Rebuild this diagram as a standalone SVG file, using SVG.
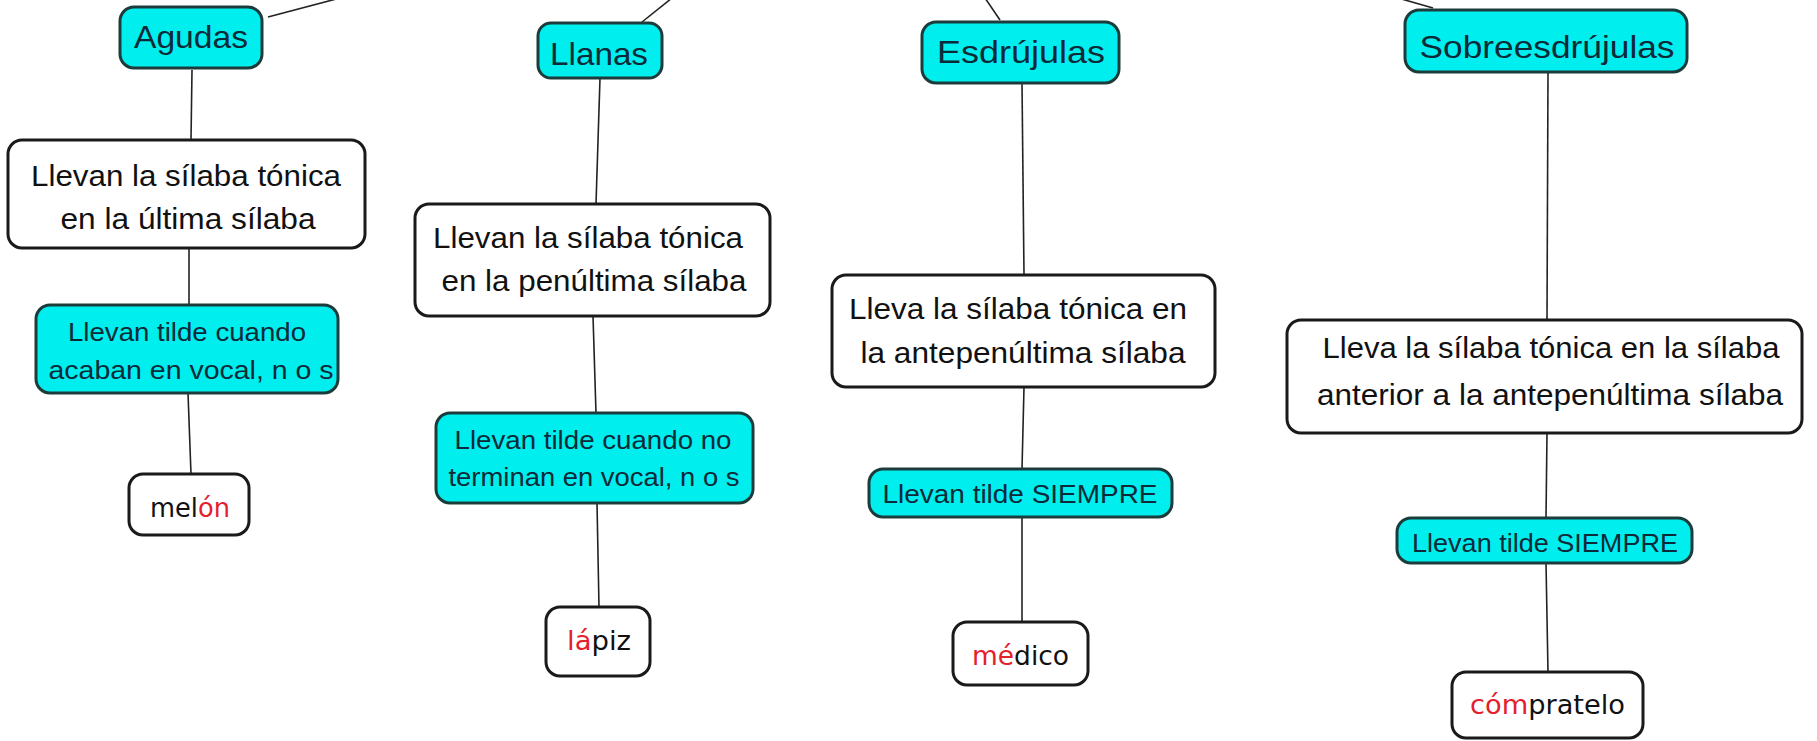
<svg xmlns="http://www.w3.org/2000/svg" width="1817" height="741" viewBox="0 0 1817 741">
<style>
.c{fill:#00eeee;stroke:#1c3c3c;stroke-width:3}
.w{fill:#ffffff;stroke:#1a1a1a;stroke-width:3}
.t{font-family:"Liberation Sans",Arial,sans-serif;fill:#111;text-anchor:middle}
.ct{font-family:"Liberation Sans",Arial,sans-serif;fill:#0c2a38;text-anchor:middle}
.e{font-family:"DejaVu Sans",Verdana,sans-serif;fill:#111;font-size:26px}
.r{fill:#e4202c}
.ln{stroke:#222;stroke-width:1.6;fill:none}
</style>
<rect width="1817" height="741" fill="#ffffff"/>
<g id="connectors">
<line class="ln" x1="268" y1="17" x2="340" y2="-2"/>
<line class="ln" x1="642" y1="22" x2="672" y2="-2"/>
<line class="ln" x1="1000" y1="20" x2="985" y2="-2"/>
<line class="ln" x1="1433" y1="8" x2="1398" y2="-2"/>
<line class="ln" x1="192" y1="70" x2="191" y2="140"/>
<line class="ln" x1="189" y1="248" x2="189" y2="305"/>
<line class="ln" x1="188" y1="393" x2="191" y2="474"/>
<line class="ln" x1="600" y1="78" x2="596" y2="204"/>
<line class="ln" x1="593" y1="316" x2="596" y2="413"/>
<line class="ln" x1="597" y1="503" x2="599" y2="607"/>
<line class="ln" x1="1022" y1="83" x2="1024" y2="275"/>
<line class="ln" x1="1024" y1="387" x2="1022" y2="469"/>
<line class="ln" x1="1022" y1="517" x2="1022" y2="622"/>
<line class="ln" x1="1548" y1="72" x2="1547" y2="320"/>
<line class="ln" x1="1547" y1="433" x2="1546" y2="518"/>
<line class="ln" x1="1546" y1="563" x2="1548" y2="672"/>
</g>
<g id="agudas">
<rect class="c" x="120" y="7" width="142" height="61" rx="14"/>
<text class="ct" x="191" y="48" font-size="32" textLength="114" lengthAdjust="spacingAndGlyphs">Agudas</text>
</g>
<g id="agudas-def">
<rect class="w" x="8" y="140" width="357" height="108" rx="14"/>
<text class="t" x="186" y="186" font-size="30" textLength="310" lengthAdjust="spacingAndGlyphs">Llevan la sílaba tónica</text>
<text class="t" x="188" y="229" font-size="30" textLength="255" lengthAdjust="spacingAndGlyphs">en la última sílaba</text>
</g>
<g id="agudas-tilde">
<rect class="c" x="36" y="305" width="302" height="88" rx="14"/>
<text class="ct" x="187" y="341" font-size="26" textLength="238" lengthAdjust="spacingAndGlyphs">Llevan tilde cuando</text>
<text class="ct" x="191" y="379" font-size="26" textLength="285" lengthAdjust="spacingAndGlyphs">acaban en vocal, n o s</text>
</g>
<g id="agudas-ej">
<rect class="w" x="129" y="474" width="120" height="61" rx="14"/>
<text class="e" x="150" y="517" textLength="80" lengthAdjust="spacingAndGlyphs">mel<tspan class="r">ón</tspan></text>
</g>
<g id="llanas">
<rect class="c" x="538" y="23" width="124" height="55" rx="13"/>
<text class="ct" x="599" y="65" font-size="32" textLength="98" lengthAdjust="spacingAndGlyphs">Llanas</text>
</g>
<g id="llanas-def">
<rect class="w" x="415" y="204" width="355" height="112" rx="14"/>
<text class="t" x="588" y="248" font-size="30" textLength="310" lengthAdjust="spacingAndGlyphs">Llevan la sílaba tónica</text>
<text class="t" x="594" y="291" font-size="30" textLength="305" lengthAdjust="spacingAndGlyphs">en la penúltima sílaba</text>
</g>
<g id="llanas-tilde">
<rect class="c" x="436" y="413" width="317" height="90" rx="14"/>
<text class="ct" x="593" y="449" font-size="26" textLength="277" lengthAdjust="spacingAndGlyphs">Llevan tilde cuando no</text>
<text class="ct" x="594" y="486" font-size="26" textLength="291" lengthAdjust="spacingAndGlyphs">terminan en vocal, n o s</text>
</g>
<g id="llanas-ej">
<rect class="w" x="546" y="607" width="104" height="69" rx="14"/>
<text class="e" x="567" y="650" textLength="64" lengthAdjust="spacingAndGlyphs"><tspan class="r">lá</tspan>piz</text>
</g>
<g id="esdrujulas">
<rect class="c" x="922" y="22" width="197" height="61" rx="14"/>
<text class="ct" x="1021" y="63" font-size="32" textLength="168" lengthAdjust="spacingAndGlyphs">Esdrújulas</text>
</g>
<g id="esdrujulas-def">
<rect class="w" x="832" y="275" width="383" height="112" rx="14"/>
<text class="t" x="1018" y="319" font-size="30" textLength="338" lengthAdjust="spacingAndGlyphs">Lleva la sílaba tónica en</text>
<text class="t" x="1023" y="363" font-size="30" textLength="325" lengthAdjust="spacingAndGlyphs">la antepenúltima sílaba</text>
</g>
<g id="esdrujulas-tilde">
<rect class="c" x="869" y="469" width="303" height="48" rx="14"/>
<text class="ct" x="1020" y="503" font-size="26" textLength="275" lengthAdjust="spacingAndGlyphs">Llevan tilde SIEMPRE</text>
</g>
<g id="esdrujulas-ej">
<rect class="w" x="953" y="622" width="135" height="63" rx="14"/>
<text class="e" x="972" y="665" textLength="97" lengthAdjust="spacingAndGlyphs"><tspan class="r">mé</tspan>dico</text>
</g>
<g id="sobreesdrujulas">
<rect class="c" x="1405" y="10" width="282" height="62" rx="14"/>
<text class="ct" x="1547" y="58" font-size="32" textLength="255" lengthAdjust="spacingAndGlyphs">Sobreesdrújulas</text>
</g>
<g id="sobreesdrujulas-def">
<rect class="w" x="1287" y="320" width="515" height="113" rx="14"/>
<text class="t" x="1551" y="358" font-size="30" textLength="457" lengthAdjust="spacingAndGlyphs">Lleva la sílaba tónica en la sílaba</text>
<text class="t" x="1550" y="405" font-size="30" textLength="466" lengthAdjust="spacingAndGlyphs">anterior a la antepenúltima sílaba</text>
</g>
<g id="sobreesdrujulas-tilde">
<rect class="c" x="1397" y="518" width="295" height="45" rx="14"/>
<text class="ct" x="1545" y="552" font-size="26" textLength="266" lengthAdjust="spacingAndGlyphs">Llevan tilde SIEMPRE</text>
</g>
<g id="sobreesdrujulas-ej">
<rect class="w" x="1452" y="672" width="191" height="66" rx="14"/>
<text class="e" x="1470" y="714" textLength="155" lengthAdjust="spacingAndGlyphs"><tspan class="r">cóm</tspan>pratelo</text>
</g>
</svg>
